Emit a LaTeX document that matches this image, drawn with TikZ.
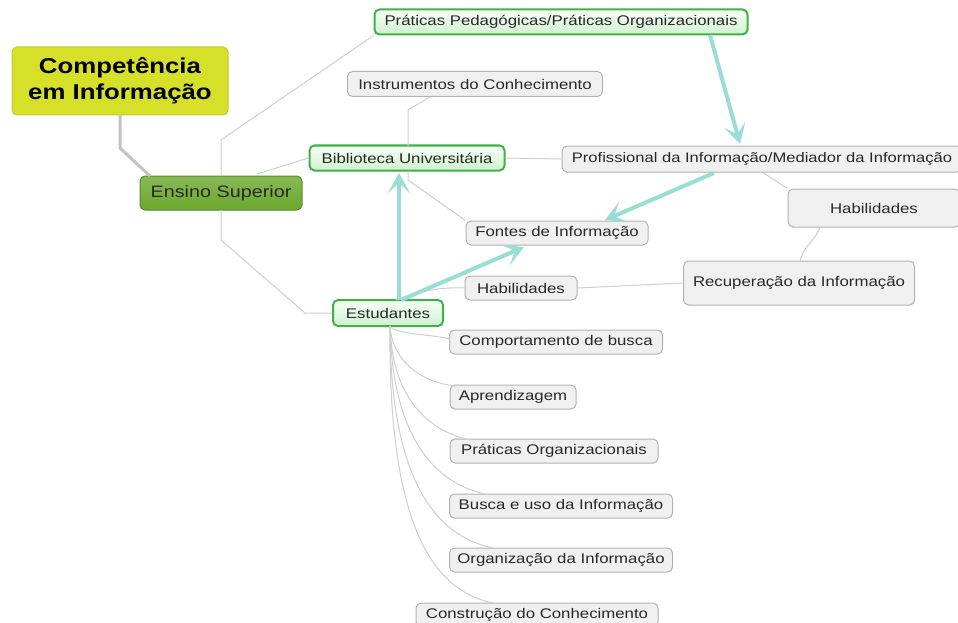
\documentclass[tikz,border=0pt]{standalone}
\usepackage{fontspec}
\setmainfont{Liberation Sans}[FakeStretch=1.2]
\usetikzlibrary{arrows.meta}
\definecolor{gfill}{RGB}{240,240,240}
\definecolor{gdraw}{RGB}{178,178,178}
\definecolor{gline}{RGB}{206,206,206}
\definecolor{txt}{RGB}{40,40,40}
\definecolor{lgtop}{RGB}{248,255,248}
\definecolor{lgbot}{RGB}{208,240,208}
\definecolor{lgdraw}{RGB}{64,176,72}
\definecolor{esfill}{RGB}{106,168,44}
\definecolor{esdraw}{RGB}{84,140,36}
\definecolor{cifill}{RGB}{214,224,40}
\definecolor{cidraw}{RGB}{196,204,40}
\definecolor{teal}{RGB}{152,222,212}
\tikzset{
  base/.style={rounded corners=5pt, inner sep=0pt, text=txt, font=\fontsize{14}{16}\selectfont, anchor=center},
  gbox/.style={base, draw=gdraw, line width=1pt, fill=gfill},
  lgbox/.style={base, draw=lgdraw, line width=2pt, top color=lgtop, bottom color=lgbot},
  conn/.style={draw=gline, line width=1pt},
  tarrow/.style={draw=teal, line width=4pt, -{Stealth[length=20pt,width=22pt,inset=10pt]}}
}
\begin{document}
\begin{tikzpicture}[x=1pt,y=-1pt]
\useasboundingbox (0,0) rectangle (958,623);
% nodes
\node[base, draw=cidraw, line width=1pt, fill=cifill, minimum width=216pt, minimum height=68pt, align=center,
  font=\bfseries\fontsize{21.5}{26}\selectfont, text=black] (ci) at (120,81) {Competência\\em Informação};
\node[base, draw=esdraw, line width=1pt, top color=esfill!80!white, bottom color=esfill, minimum width=162pt, minimum height=34pt,
  font=\fontsize{16.5}{18}\selectfont] (es) at (221,193) {Ensino Superior};
\node[lgbox, minimum width=373pt, minimum height=25pt] (pp) at (561,22) {Práticas Pedagógicas/Práticas Organizacionais};
\node[gbox, minimum width=255pt, minimum height=25pt] (ic) at (475,84) {Instrumentos do Conhecimento};
\node[lgbox, minimum width=195pt, minimum height=25pt] (bu) at (407,158) {Biblioteca Universitária};
\node[gbox, minimum width=400pt, minimum height=26pt, font=\fontsize{13.8}{16}\selectfont] (pi) at (762,159) {Profissional da Informação/Mediador da Informação};
\node[gbox, minimum width=172pt, minimum height=38pt] (hr) at (874,208) {Habilidades};
\node[gbox, minimum width=182pt, minimum height=24pt] (fi) at (557,233) {Fontes de Informação};
\node[gbox, minimum width=112pt, minimum height=24pt] (hm) at (521,288) {Habilidades};
\node[gbox, minimum width=231pt, minimum height=44pt] (ri) at (799,283) {Recuperação da Informação};
\node[lgbox, minimum width=110pt, minimum height=26pt] (et) at (388,313) {Estudantes};
\node[gbox, minimum width=213pt, minimum height=24pt] (cb) at (556,342) {Comportamento de busca};
\node[gbox, minimum width=126pt, minimum height=24pt] (ap) at (513,397) {Aprendizagem};
\node[gbox, minimum width=208pt, minimum height=24pt] (po) at (554,451) {Práticas Organizacionais};
\node[gbox, minimum width=223pt, minimum height=24pt] (bi) at (561,506) {Busca e uso da Informação};
\node[gbox, minimum width=223pt, minimum height=24pt] (oi) at (561,560) {Organização da Informação};
\node[gbox, minimum width=242pt, minimum height=24pt] (cc) at (537,615) {Construção do Conhecimento};
% connectors
\coordinate (c2) at (120,148);
\draw[draw=gline!85!gray, line width=3pt] (ci.south) -- (c2) -- (150,176);
\coordinate (k1) at (221,140);
\coordinate (k2) at (221,240);
\coordinate (k3) at (305,313);
\draw[conn] (221,176) -- (k1) -- (pp.south west);
\draw[conn] (221,210) -- (k2) -- (k3) -- (et.west);
\draw[conn] (257,174) -- (bu.west);
\coordinate (b1) at (408,110);
\coordinate (b2) at (408,180);
\draw[conn] (408,146) -- (b1) -- (430,97);
\draw[conn] (408,171) -- (b2) -- (fi.north west);
\draw[conn] (bu.east) -- (pi.west);
\draw[conn] (762,172) -- (hr.north west);
\draw[conn] (820,227) to[out=-110,in=80] (800,262);
\draw[conn] (hm.east) -- (ri.west);
\draw[conn] (396,300) .. controls (420,290) and (445,287) .. (hm.west);
\coordinate (s) at (390,326);
\draw[conn] (s) .. controls (392,334) and (430,334) .. (450,339);
\draw[conn] (s) .. controls (392,360) and (420,382) .. (455,386);
\draw[conn] (s) .. controls (392,395) and (425,430) .. (470,440);
\draw[conn] (s) .. controls (392,430) and (430,482) .. (485,494);
\draw[conn] (s) .. controls (390,470) and (430,535) .. (493,548);
\draw[conn] (s) .. controls (388,520) and (430,590) .. (493,603);
% teal arrows
\draw[tarrow] (710,35) -- (740,144);
\draw[tarrow] (714,173) -- (605,220);
\draw[tarrow] (399,300) -- (399,173);
\draw[tarrow] (401,300) -- (524,247);
\end{tikzpicture}
\end{document}
